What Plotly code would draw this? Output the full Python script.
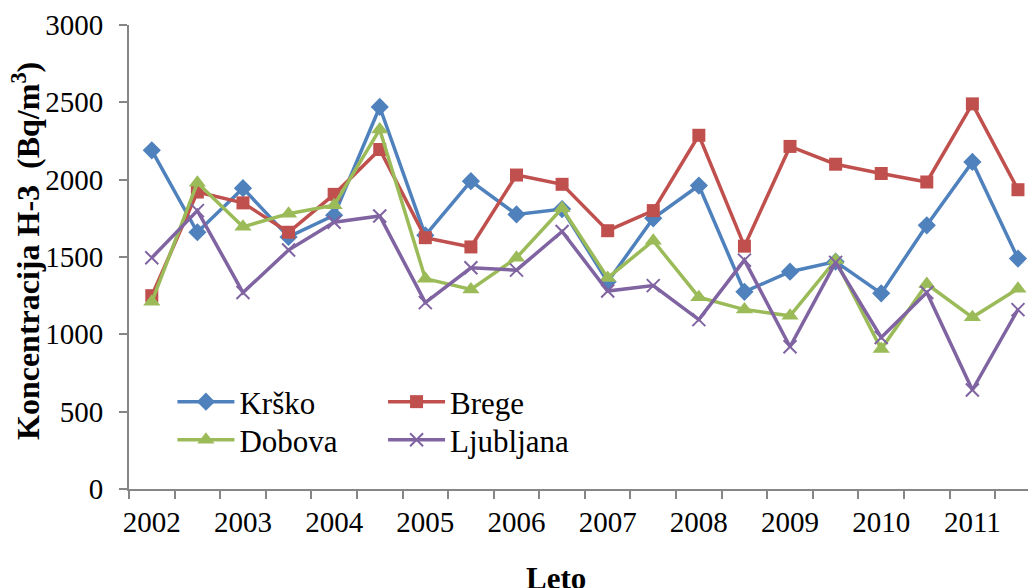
import plotly.graph_objects as go

# Half-year sampling periods, two per calendar year
years = [2002, 2003, 2004, 2005, 2006, 2007, 2008, 2009, 2010, 2011]
periods = ["2002/1", "2002/2", "2003/1", "2003/2", "2004/1", "2004/2",
           "2005/1", "2005/2", "2006/1", "2006/2", "2007/1", "2007/2",
           "2008/1", "2008/2", "2009/1", "2009/2", "2010/1", "2010/2",
           "2011/1", "2011/2"]

# H-3 concentration (Bq/m3)
krsko = [2190, 1660, 1945, 1630, 1770, 2470, 1640, 1990, 1775, 1810,
         1340, 1750, 1962, 1275, 1405, 1470, 1265, 1705, 2115, 1490]
brege = [1250, 1920, 1850, 1660, 1905, 2195, 1625, 1565, 2030, 1970,
         1670, 1800, 2287, 1570, 2215, 2100, 2040, 1985, 2490, 1935]
dobova = [1210, 1980, 1695, 1780, 1835, 2325, 1360, 1290, 1495, 1815,
          1365, 1605, 1240, 1160, 1120, 1480, 905, 1325, 1110, 1295]
ljubljana = [1495, 1800, 1270, 1545, 1725, 1765, 1205, 1430, 1415, 1665,
             1280, 1315, 1095, 1480, 920, 1465, 980, 1270, 640, 1160]

x_idx = list(range(len(periods)))
year_pos = [periods.index(f"{y}/1") for y in years]
boundaries = [i - 0.5 for i in range(len(periods))]

series = [
    ("Krško", krsko, "#4F81BD", "diamond", 14, "legend"),
    ("Brege", brege, "#C0504D", "square", 13, "legend2"),
    ("Dobova", dobova, "#9BBB59", "triangle-up", 15, "legend3"),
    ("Ljubljana", ljubljana, "#8064A2", "x-thin", 13, "legend4"),
]

fig = go.Figure()
for name, vals, color, sym, size, leg in series:
    marker = dict(symbol=sym, size=size, color=color)
    if sym == "x-thin":
        marker["line"] = dict(color=color, width=2)
    else:
        marker["line"] = dict(width=0)
    fig.add_trace(go.Scatter(
        x=x_idx, y=vals, name=name, mode="lines+markers",
        line=dict(color=color, width=3.5), marker=marker,
        customdata=periods, legend=leg,
        hovertemplate="%{customdata}: %{y}<extra>" + name + "</extra>",
    ))

font_family = "Liberation Serif"
axis_grey = "#868686"

def leg_box(xp, yp):
    return dict(x=xp, y=yp, xanchor="left", yanchor="middle",
                bgcolor="rgba(0,0,0,0)", borderwidth=0, itemwidth=57,
                font=dict(family=font_family, size=31, color="black"))

fig.update_layout(
    width=1028, height=588,
    margin=dict(l=129, r=0, t=25, b=99),
    paper_bgcolor="white", plot_bgcolor="white",
    font=dict(family=font_family, color="black"),
    showlegend=True,
    legend=leg_box(0.0483, 0.1875),
    legend2=leg_box(0.2826, 0.1875),
    legend3=leg_box(0.0483, 0.1053),
    legend4=leg_box(0.2826, 0.1053),
    xaxis=dict(
        range=[-0.5, 19.22], tickmode="array", tickvals=year_pos,
        ticktext=[str(y) for y in years], ticks="",
        tickfont=dict(size=29, family=font_family, color="black"),
        showgrid=False, zeroline=False, showline=True,
        linecolor=axis_grey, linewidth=2,
        minor=dict(tickmode="array", tickvals=boundaries, ticks="outside",
                   ticklen=8, tickwidth=2, tickcolor=axis_grey,
                   showgrid=False),
        ticklabelstandoff=6,
    ),
    yaxis=dict(
        range=[0, 3000], tickmode="array",
        tickvals=[0, 500, 1000, 1500, 2000, 2500, 3000],
        ticks="outside", ticklen=8, tickwidth=2, tickcolor=axis_grey,
        tickfont=dict(size=29, family=font_family, color="black"),
        showgrid=False, zeroline=False, showline=True,
        linecolor=axis_grey, linewidth=2,
        ticklabelstandoff=10,
    ),
    annotations=[
        dict(text="<b>Koncentracija H-3  (Bq/m<sup>3</sup>)</b>",
             xref="paper", yref="paper", x=(26 - 129) / 899, y=(489 - 251) / 464,
             xanchor="center", yanchor="middle", textangle=-90, showarrow=False,
             font=dict(family=font_family, size=32, color="black")),
        dict(text="<b>Leto</b>",
             xref="paper", yref="paper", x=(556 - 129) / 899, y=(489 - 578) / 464,
             xanchor="center", yanchor="middle", showarrow=False,
             font=dict(family=font_family, size=31, color="black")),
    ],
)

fig.write_html("out.html")
